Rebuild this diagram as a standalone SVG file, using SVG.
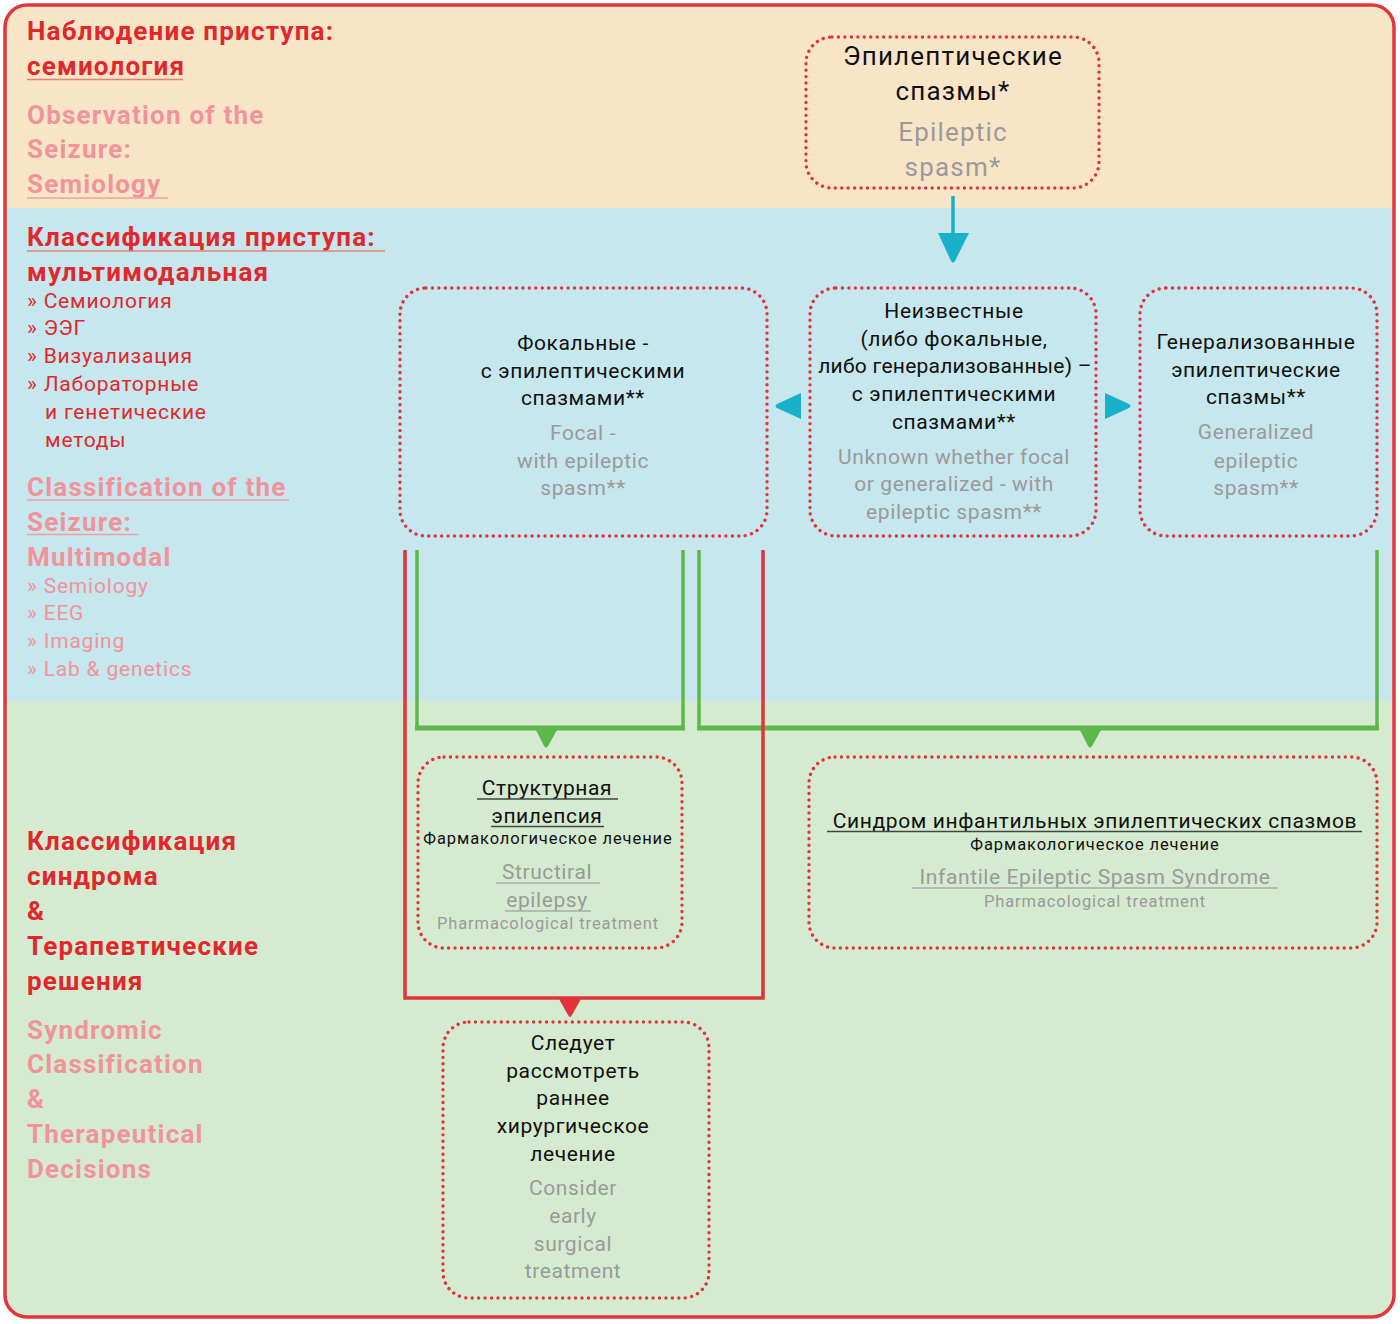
<svg xmlns="http://www.w3.org/2000/svg" width="1400" height="1324" viewBox="0 0 1400 1324">
<style>
.h{font-family:Roboto,"Liberation Sans",sans-serif;font-weight:bold;font-size:26px;fill:#e3262c;letter-spacing:1.2px}
.hp{font-family:Roboto,"Liberation Sans",sans-serif;font-weight:bold;font-size:26px;fill:#f2929b;letter-spacing:1.2px}
.li{font-family:Roboto,"Liberation Sans",sans-serif;font-size:21px;fill:#e3262c;letter-spacing:0.8px}
.lp{font-family:Roboto,"Liberation Sans",sans-serif;font-size:21px;fill:#f2929b;letter-spacing:0.8px}
.t{font-family:Roboto,"Liberation Sans",sans-serif;font-size:21px;fill:#111;text-anchor:middle;letter-spacing:0.6px}
.g{font-family:Roboto,"Liberation Sans",sans-serif;font-size:21px;fill:#9a9a9a;text-anchor:middle;letter-spacing:0.6px}
.tb{font-size:26px;letter-spacing:1.2px}
.s{font-size:16.5px;letter-spacing:0.9px}
.node{fill:none;stroke:#e2323c;stroke-width:3.4;stroke-dasharray:0.01 6.45;stroke-linecap:round}
.ul{stroke-width:1.5}
.green{fill:none;stroke:#5cb84a;stroke-width:3.5}
.red{fill:none;stroke:#e2323c;stroke-width:3.5}
</style>
<defs>
<clipPath id="frame"><rect x="5" y="5" width="1389" height="1312" rx="22"/></clipPath>
</defs>
<g id="background" clip-path="url(#frame)">
<rect x="0" y="0" width="1400" height="208" fill="#f8e5c7"/>
<rect x="0" y="208" width="1400" height="493" fill="#c6e7ed"/>
<rect x="0" y="701" width="1400" height="623" fill="#d5ebd0"/>
</g>
<rect x="5" y="5" width="1389" height="1312" rx="22" fill="none" stroke="#e2363f" stroke-width="3.5"/>

<g id="labels-left">
<text class="h" x="27" y="40">Наблюдение приступа:</text>
<text class="h" x="27" y="75">семиология</text>
<line class="ul" x1="27" y1="79.5" x2="183" y2="79.5" stroke="#e8806f"/>
<text class="hp" x="27" y="124">Observation of the</text>
<text class="hp" x="27" y="158">Seizure:</text>
<text class="hp" x="27" y="193">Semiology</text>
<line class="ul" x1="27" y1="198" x2="168" y2="198" stroke="#f0a0a0"/>

<text class="h" x="27" y="246">Классификация приступа:</text>
<line class="ul" x1="27" y1="251" x2="385" y2="251" stroke="#e8806f"/>
<text class="h" x="27" y="281">мультимодальная</text>
<text class="li" x="27" y="308">» Семиология</text>
<text class="li" x="27" y="335">» ЭЭГ</text>
<text class="li" x="27" y="363">» Визуализация</text>
<text class="li" x="27" y="391">» Лабораторные</text>
<text class="li" x="45" y="419">и генетические</text>
<text class="li" x="45" y="447">методы</text>
<text class="hp" x="27" y="496">Classification of the</text>
<line class="ul" x1="27" y1="500" x2="289" y2="500" stroke="#f0a0a0"/>
<text class="hp" x="27" y="531">Seizure:</text>
<line class="ul" x1="27" y1="534.5" x2="138" y2="534.5" stroke="#f0a0a0"/>
<text class="hp" x="27" y="566">Multimodal</text>
<text class="lp" x="27" y="593">» Semiology</text>
<text class="lp" x="27" y="620">» EEG</text>
<text class="lp" x="27" y="648">» Imaging</text>
<text class="lp" x="27" y="676">» Lab &amp; genetics</text>

<text class="h" x="27" y="850">Классификация</text>
<text class="h" x="27" y="885">синдрома</text>
<text class="h" x="27" y="920">&amp;</text>
<text class="h" x="27" y="955">Терапевтические</text>
<text class="h" x="27" y="990">решения</text>
<text class="hp" x="27" y="1039">Syndromic</text>
<text class="hp" x="27" y="1073">Classification</text>
<text class="hp" x="27" y="1108">&amp;</text>
<text class="hp" x="27" y="1143">Therapeutical</text>
<text class="hp" x="27" y="1178">Decisions</text>
</g>

<g id="connectors">
<line x1="953" y1="196" x2="953" y2="236" stroke="#19b1c9" stroke-width="3.5"/>
<path d="M938,233 L969,233 L955,261 Q953,264 951,261 Z" fill="#19b1c9"/>
<path d="M801,393 L801,419 L777,408 Q774,406 777,404 Z" fill="#19b1c9"/>
<path d="M1105,393 L1105,419 L1129,408 Q1132,406 1129,404 Z" fill="#19b1c9"/>
<path class="green" d="M417,550 V728 H683 V550"/>
<path class="green" d="M699,550 V728 H1377 V550"/>
<line x1="415" y1="728" x2="685" y2="728" stroke="#5cb84a" stroke-width="5"/>
<line x1="697" y1="728" x2="1379" y2="728" stroke="#5cb84a" stroke-width="5"/>
<path d="M536,730 L557,730 L548,746 Q546,749 544,746 Z" fill="#5cb84a"/>
<path d="M1080,730 L1101,730 L1092,746 Q1090,749 1088,746 Z" fill="#5cb84a"/>
<path class="red" d="M405,550 V998 H763 V550"/>
<path d="M559,999 L581,999 L572,1015 Q570,1019 568,1015 Z" fill="#e2323c"/>
</g>

<g id="node-spasms">
<rect class="node" x="806" y="37" width="293" height="151" rx="26"/>
<text class="t tb" x="953" y="65">Эпилептические</text>
<text class="t tb" x="953" y="100">спазмы*</text>
<text class="g tb" x="953" y="141">Epileptic</text>
<text class="g tb" x="953" y="176">spasm*</text>
</g>

<g id="node-focal">
<rect class="node" x="400" y="288" width="367" height="248" rx="26"/>
<text class="t" x="583" y="350">Фокальные -</text>
<text class="t" x="583" y="378">с эпилептическими</text>
<text class="t" x="583" y="405">спазмами**</text>
<text class="g" x="583" y="440">Focal -</text>
<text class="g" x="583" y="468">with epileptic</text>
<text class="g" x="583" y="495">spasm**</text>
</g>

<g id="node-unknown">
<rect class="node" x="810" y="288" width="286" height="248" rx="26"/>
<text class="t" x="954" y="318">Неизвестные</text>
<text class="t" x="954" y="346">(либо фокальные,</text>
<text class="t" x="955" y="373" style="letter-spacing:0.25px">либо генерализованные) –</text>
<text class="t" x="954" y="401">с эпилептическими</text>
<text class="t" x="954" y="429">спазмами**</text>
<text class="g" x="954" y="464">Unknown whether focal</text>
<text class="g" x="954" y="491">or generalized - with</text>
<text class="g" x="954" y="519">epileptic spasm**</text>
</g>

<g id="node-generalized">
<rect class="node" x="1140" y="288" width="237" height="248" rx="26"/>
<text class="t" x="1256" y="349">Генерализованные</text>
<text class="t" x="1256" y="377">эпилептические</text>
<text class="t" x="1256" y="404">спазмы**</text>
<text class="g" x="1256" y="439">Generalized</text>
<text class="g" x="1256" y="468">epileptic</text>
<text class="g" x="1256" y="495">spasm**</text>
</g>

<g id="node-structural">
<rect class="node" x="418" y="757" width="264" height="191" rx="26"/>
<text class="t" x="547" y="795">Структурная</text>
<line class="ul" x1="477" y1="799" x2="618" y2="799" stroke="#444"/>
<text class="t" x="547" y="823">эпилепсия</text>
<line class="ul" x1="491" y1="826.5" x2="604" y2="826.5" stroke="#444"/>
<text class="t s" x="548" y="844">Фармакологическое лечение</text>
<text class="g" x="547" y="879">Structiral</text>
<line class="ul" x1="496" y1="883" x2="600" y2="883" stroke="#aaa"/>
<text class="g" x="547" y="907">epilepsy</text>
<line class="ul" x1="505" y1="911" x2="591" y2="911" stroke="#aaa"/>
<text class="g s" x="548" y="929">Pharmacological treatment</text>
</g>

<g id="node-syndrome">
<rect class="node" x="809" y="757" width="568" height="191" rx="26"/>
<text class="t" x="1095" y="828">Синдром инфантильных эпилептических спазмов</text>
<line class="ul" x1="827" y1="831.5" x2="1362" y2="831.5" stroke="#444"/>
<text class="t s" x="1095" y="850">Фармакологическое лечение</text>
<text class="g" x="1095" y="884">Infantile Epileptic Spasm Syndrome</text>
<line class="ul" x1="912" y1="888" x2="1278" y2="888" stroke="#aaa"/>
<text class="g s" x="1095" y="907">Pharmacological treatment</text>
</g>

<g id="node-surgery">
<rect class="node" x="443" y="1022" width="266" height="276" rx="26"/>
<text class="t" x="573" y="1050">Следует</text>
<text class="t" x="573" y="1078">рассмотреть</text>
<text class="t" x="573" y="1105">раннее</text>
<text class="t" x="573" y="1133">хирургическое</text>
<text class="t" x="573" y="1161">лечение</text>
<text class="g" x="573" y="1195">Consider</text>
<text class="g" x="573" y="1223">early</text>
<text class="g" x="573" y="1251">surgical</text>
<text class="g" x="573" y="1278">treatment</text>
</g>
</svg>
